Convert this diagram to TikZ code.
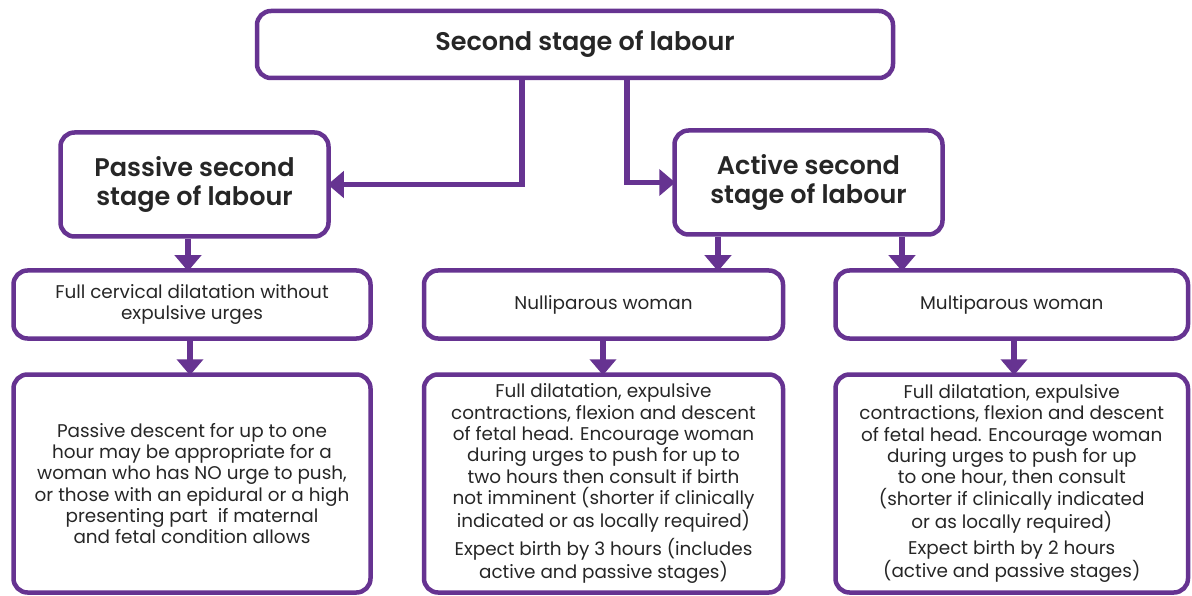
\documentclass[tikz,border=0pt]{standalone}
\usepackage{fontspec}
\setmainfont{Poppins}[BoldFont={Poppins SemiBold}]
\usetikzlibrary{arrows.meta}
\definecolor{vpurple}{RGB}{102,51,145}
\begin{document}
\begin{tikzpicture}[x=1pt,y=-1pt,
  box/.style={draw=vpurple,line width=4.5pt,rounded corners=14pt,align=center,inner sep=0pt,text=black!85},
  big/.style={font=\bfseries\fontsize{25.5}{29}\selectfont,text=black!85,align=center},
  small/.style={font=\fontsize{18.4}{21.3}\selectfont},
  arr/.style={draw=vpurple,line width=5.5pt,-{Triangle[length=16pt,width=26pt]},shorten >=-3pt}]
\useasboundingbox (0,0) rectangle (1192,596);
% top
\node[box,minimum width=636pt,minimum height=67pt] (top) at (575,44.5) {};
\node[big] (toptext) at (585,44) {Second stage of labour};
% level 2
\node[box,big,minimum width=268pt,minimum height=104pt] (passive) at (194.5,184.5) {Passive second\\stage of labour};
\node[box,big,minimum width=268pt,minimum height=104pt] (active) at (808.5,182.5) {Active second\\stage of labour};
% level 3
\node[box,small,minimum width=357pt,minimum height=68pt] (cerv) at (192,304.5) {Full cervical dilatation without\\expulsive urges};
\node[box,small,minimum width=359pt,minimum height=68pt] (nulli) at (603.5,304.5) {Nulliparous woman};
\node[box,small,minimum width=352.5pt,minimum height=68pt] (multi) at (1011.75,304.5) {Multiparous woman};
% level 4
\node[box,small,minimum width=357pt,minimum height=218pt] (pdesc) at (192,483.5) {Passive descent for up to one\\hour may be appropriate for a\\woman who has NO urge to push,\\or those with an epidural or a high\\presenting part\ \ if maternal\\and fetal condition allows};
\node[box,small,minimum width=359pt,minimum height=218pt] (ndesc) at (603.5,483.5) {Full dilatation, expulsive\\contractions, flexion and descent\\of fetal head. Encourage woman\\during urges to push for up to\\two hours then consult if birth\\not imminent (shorter if clinically\\indicated or as locally required)\\[5pt]Expect birth by 3 hours (includes\\active and passive stages)};
\node[box,small,minimum width=352.5pt,minimum height=218pt] (mdesc) at (1011.75,483.5) {Full dilatation, expulsive\\contractions, flexion and descent\\of fetal head. Encourage woman\\during urges to push for up\\to one hour, then consult\\(shorter if clinically indicated\\or as locally required)\\[5pt]Expect birth by 2 hours\\(active and passive stages)};
% connectors
\draw[arr] (top.south -| 522,0) |- (passive.east);
\draw[arr] (top.south -| 627,0) |- (active.west);
\draw[arr] (passive.south -| 188,0) -- (cerv.north -| 188,0);
\draw[arr] (active.south -| 718,0) -- (nulli.north -| 718,0);
\draw[arr] (active.south -| 902,0) -- (multi.north -| 902,0);
\draw[arr] (cerv.south -| 190,0) -- (pdesc.north -| 190,0);
\draw[arr] (nulli.south -| 603,0) -- (ndesc.north -| 603,0);
\draw[arr] (multi.south -| 1014,0) -- (mdesc.north -| 1014,0);
\end{tikzpicture}
\end{document}
